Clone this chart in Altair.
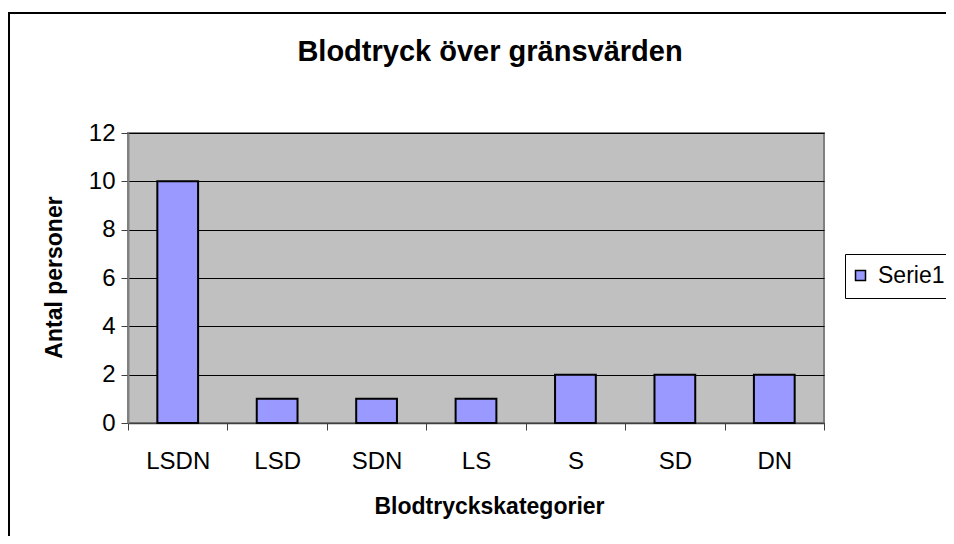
import altair as alt
import pandas as pd

categories = ["LSDN", "LSD", "SDN", "LS", "S", "SD", "DN"]
counts = [10, 1, 1, 1, 2, 2, 2]
series_name = "Serie1"
y_ticks = [0, 2, 4, 6, 8, 10, 12]
title_text = "Blodtryck över gränsvärden"
x_title = "Blodtryckskategorier"
y_title = "Antal personer"

FONT = "Liberation Sans"
W, H = 696, 290

df = pd.DataFrame({"kategori": categories, "antal": counts, "serie": [series_name] * len(categories)})

frame = alt.Chart(pd.DataFrame({"f": [0]})).mark_rect(
    fillOpacity=0, stroke="black", strokeWidth=2
).encode(
    x=alt.value(-119), x2=alt.value(900), y=alt.value(-120), y2=alt.value(600)
)

bars = alt.Chart(df).mark_bar(
    width=alt.RelativeBandSize(0.41), stroke="black", strokeWidth=2
).encode(
    x=alt.X(
        "kategori:N",
        sort=categories,
        scale=alt.Scale(paddingInner=0, paddingOuter=0),
        axis=alt.Axis(
            title=x_title,
            labelAngle=0,
            tickBand="extent",
            tickSize=7,
            tickColor="#404040",
            domainColor="#404040",
            domainWidth=1.5,
            labelFont=FONT,
            labelFontSize=24,
            labelColor="black",
            labelBaseline="alphabetic",
            labelPadding=38,
            titleFont=FONT,
            titleFontSize=23,
            titleFontWeight="bold",
            titleColor="black",
            titleBaseline="alphabetic",
            titleX=361,
            titleY=90,
            titleAlign="center",
            grid=False,
        ),
    ),
    y=alt.Y(
        "antal:Q",
        scale=alt.Scale(domain=[0, 12], nice=False),
        axis=alt.Axis(
            title=y_title,
            values=y_ticks,
            tickSize=7,
            tickColor="#404040",
            domainColor="#808080",
            domainWidth=2,
            labelFont=FONT,
            labelFontSize=24,
            labelColor="black",
            labelPadding=6,
            grid=True,
            gridColor="black",
            gridWidth=1,
            titleFont=FONT,
            titleFontSize=23,
            titleFontWeight="bold",
            titleColor="black",
            titleAngle=270,
            titleBaseline="alphabetic",
            titleAlign="center",
            titleX=-67,
            titleY=144,
        ),
    ),
    color=alt.Color(
        "serie:N",
        scale=alt.Scale(range=["#9999FF"]),
        legend=alt.Legend(
            title=None,
            orient="none",
            legendX=717,
            legendY=121,
            strokeColor="black",
            fillColor="white",
            padding=10,
            symbolType="square",
            symbolSize=100,
            symbolOffset=-6,
            symbolStrokeColor="black",
            symbolStrokeWidth=1.5,
            symbolOpacity=1,
            labelFont=FONT,
            labelFontSize=23,
            labelColor="black",
            labelOffset=6,
        ),
    ),
)

title_layer = alt.Chart(pd.DataFrame({"t": [title_text]})).mark_text(
    font=FONT, fontSize=29, fontWeight="bold", baseline="alphabetic", align="center", color="black"
).encode(text="t:N", x=alt.value(362), y=alt.value(-72))

chart = alt.layer(frame, bars, title_layer).properties(
    width=W,
    height=H,
    padding={"left": 120, "top": 125, "right": 122, "bottom": 113},
    autosize=alt.AutoSizeParams(type="none"),
    background="white",
).configure_view(
    fill="#C0C0C0", stroke="#808080", strokeWidth=2
)

chart.save("out.html", embed_options={"renderer": "svg", "actions": False})
